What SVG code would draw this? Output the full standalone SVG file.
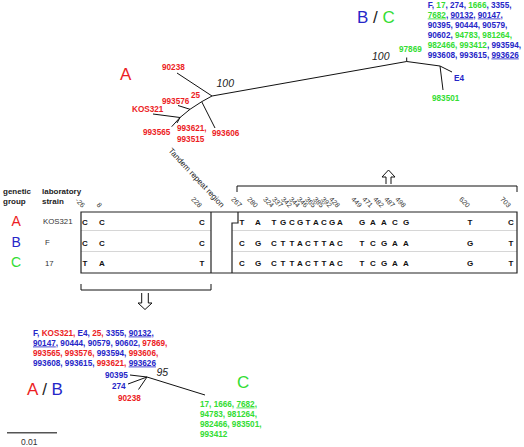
<svg xmlns="http://www.w3.org/2000/svg" width="524" height="447" viewBox="0 0 524 447">
<style>
text{font-family:"Liberation Sans",Arial,sans-serif}
.lb{font-size:8.2px;font-weight:bold}
.r{fill:#ec1c24}.b{fill:#2626c8}.g{fill:#33dd33}.k{fill:#222}
.u{text-decoration:underline}
.big{font-size:17px}
.it{font-size:10.5px;font-style:italic;fill:#222}
.hd{font-size:8px;font-weight:bold;fill:#222}
.st{font-size:7.8px;fill:#333}
.sq{font-size:8px;font-weight:bold;fill:#111;text-anchor:middle}
.cl{font-size:7px;fill:#333;text-anchor:end}
.e{stroke:#111;stroke-width:1;fill:none}
.bx{stroke:#222;stroke-width:1.2;fill:none}
.sep{stroke:#ccc;stroke-width:0.8}
</style>
<rect width="524" height="447" fill="#fff"/>

<g id="connectors">
  <path class="e" d="M212,96 L177,73"/>
  <path class="e" d="M212,96 L201.7,101.7 L190,109.3 L180,117.5 L171.7,126.7"/>
  <path class="e" d="M201.7,101.7 L215,128"/>
  <path class="e" d="M190,109.3 L178,105.5"/>
  <path class="e" d="M180,117.5 L153,114"/>
  <path class="e" d="M180,117.5 L177,123"/>
  <path class="e" d="M212,96 L406.7,61.5"/>
  <path class="e" d="M406.7,61.5 L406.7,57.5"/>
  <path class="e" d="M406.7,61.5 L440,66 L452,72"/>
  <path class="e" d="M440,66 L443,90"/>
  <path class="e" d="M147,377 L130,375"/>
  <path class="e" d="M147,377 L128,384"/>
  <path class="e" d="M147,377 L138.5,389.5"/>
  <path class="e" d="M147,377 L205,395"/>
  <path class="e" d="M237,192 V186 H517 V192"/>
  <path class="e" d="M386,184 V177 H382 L388.5,170 L395,177 H391 V184"/>
  <path class="e" d="M81,284 V290 H211 V284"/>
  <path class="e" d="M141.7,293 V303 H138 L145,309.5 L152,303 H148.3 V293"/>
  <path d="M7,432.7 H57" stroke="#555" stroke-width="1.5"/>
</g>

<g id="tree-top-A">
  <text class="big r" x="120" y="80">A</text>
  <text class="lb r" x="162" y="70">90238</text>
  <text class="lb r" x="191" y="98">25</text>
  <text class="lb r" x="162" y="104">993576</text>
  <text class="lb r" x="132" y="112">KOS321</text>
  <text class="lb r" x="143" y="134.5">993565</text>
  <text class="lb r" x="177" y="131">993621,</text>
  <text class="lb r" x="177" y="141.5">993515</text>
  <text class="lb r" x="212" y="135.5">993606</text>
  <text class="it" x="216.5" y="87">100</text>
</g>

<g id="tree-top-BC">
  <text class="big" x="357" y="23"><tspan class="b">B</tspan><tspan class="k"> / </tspan><tspan class="g">C</tspan></text>
  <text class="it" x="372" y="60">100</text>
  <text class="lb g" x="399" y="52">97869</text>
  <text class="lb b" x="454" y="81">E4</text>
  <text class="lb g" x="432" y="101">983501</text>
  <text class="lb" x="427.7" y="7.5"><tspan class="b">F, </tspan><tspan class="g">17</tspan><tspan class="b">, 274, </tspan><tspan class="g">1666</tspan><tspan class="b">, 3355,</tspan></text>
  <text class="lb" x="427.7" y="17.5"><tspan class="g u">7682</tspan><tspan class="b">, </tspan><tspan class="b u">90132</tspan><tspan class="b">, </tspan><tspan class="b u">90147</tspan><tspan class="b">,</tspan></text>
  <text class="lb b" x="427.7" y="27.5">90395, 90444, 90579,</text>
  <text class="lb" x="427.7" y="37.5"><tspan class="b">90602, </tspan><tspan class="g">94783, 981264,</tspan></text>
  <text class="lb" x="427.7" y="47.5"><tspan class="g">982466, 993412</tspan><tspan class="b">, 993594,</tspan></text>
  <text class="lb" x="427.7" y="57.5"><tspan class="b">993608, 993615, </tspan><tspan class="b u">993626</tspan></text>
</g>

<g id="tandem-label">
  <text font-size="8" fill="#222" transform="translate(168,151) rotate(47)">Tandem repeat region</text>
</g>

<g id="table">
  <text class="hd" x="3" y="193.5">genetic</text>
  <text class="hd" x="3" y="203.5">group</text>
  <text class="hd" x="42" y="193.5">laboratory</text>
  <text class="hd" x="42" y="203.5">strain</text>
  <text font-size="14" class="r" x="11.5" y="226">A</text>
  <text font-size="14" class="b" x="11.5" y="246.5">B</text>
  <text font-size="14" class="g" x="11" y="267">C</text>
  <text class="st" x="43" y="224">KOS321</text>
  <text class="st" x="45" y="245">F</text>
  <text class="st" x="45" y="266">17</text>

  <line class="sep" x1="81" y1="230.5" x2="211" y2="230.5"/>
  <line class="sep" x1="81" y1="251.5" x2="211" y2="251.5"/>
  <line class="sep" x1="232" y1="230.5" x2="517" y2="230.5"/>
  <line class="sep" x1="232" y1="251.5" x2="517" y2="251.5"/>
  <path class="bx" d="M81,212 H517 V273 H81 Z"/>
  <path class="bx" d="M211,212 V273"/>
  <path class="bx" d="M238,212 V223 H232 V273"/>

  <text class="cl" transform="translate(82,208) rotate(45)">-26</text>
  <text class="cl" transform="translate(99,208) rotate(45)">8</text>
  <text class="cl" transform="translate(199,208) rotate(45)">228</text>
  <g class="sq">
    <text x="85" y="224.5">C</text><text x="102" y="224.5">C</text><text x="202" y="224.5">C</text>
    <text x="85" y="245.5">C</text><text x="102" y="245.5">C</text><text x="202" y="245.5">C</text>
    <text x="85" y="266">T</text><text x="102" y="266">A</text><text x="202" y="266">T</text>
  </g>

  <text class="cl" transform="translate(239,208) rotate(45)">267</text>
  <text class="cl" transform="translate(255,208) rotate(45)">280</text>
  <text class="cl" transform="translate(271,208) rotate(45)">324</text>
  <text class="cl" transform="translate(280,208) rotate(45)">337</text>
  <text class="cl" transform="translate(289,208) rotate(45)">342</text>
  <text class="cl" transform="translate(297,208) rotate(45)">344</text>
  <text class="cl" transform="translate(305,208) rotate(45)">346</text>
  <text class="cl" transform="translate(313,208) rotate(45)">365</text>
  <text class="cl" transform="translate(321,208) rotate(45)">385</text>
  <text class="cl" transform="translate(329,208) rotate(45)">392</text>
  <text class="cl" transform="translate(337,208) rotate(45)">428</text>
  <text class="cl" transform="translate(359,208) rotate(45)">449</text>
  <text class="cl" transform="translate(370,208) rotate(45)">471</text>
  <text class="cl" transform="translate(381,208) rotate(45)">482</text>
  <text class="cl" transform="translate(392,208) rotate(45)">487</text>
  <text class="cl" transform="translate(403,208) rotate(45)">498</text>
  <text class="cl" transform="translate(467,208) rotate(45)">620</text>
  <text class="cl" transform="translate(508,208) rotate(45)">703</text>

  <g class="sq">
    <text y="224.5"><tspan x="242">T</tspan><tspan x="258">A</tspan><tspan x="274">T</tspan><tspan x="283">G</tspan><tspan x="292">C</tspan><tspan x="300">G</tspan><tspan x="308">T</tspan><tspan x="316">A</tspan><tspan x="324">C</tspan><tspan x="332">G</tspan><tspan x="340">A</tspan><tspan x="362">G</tspan><tspan x="373">A</tspan><tspan x="384">A</tspan><tspan x="395">C</tspan><tspan x="406">G</tspan><tspan x="470">T</tspan><tspan x="511">C</tspan></text>
    <text y="245.5"><tspan x="242">C</tspan><tspan x="258">G</tspan><tspan x="274">C</tspan><tspan x="283">T</tspan><tspan x="292">T</tspan><tspan x="300">A</tspan><tspan x="308">C</tspan><tspan x="316">T</tspan><tspan x="324">T</tspan><tspan x="332">A</tspan><tspan x="340">C</tspan><tspan x="362">T</tspan><tspan x="373">C</tspan><tspan x="384">G</tspan><tspan x="395">A</tspan><tspan x="406">A</tspan><tspan x="470">G</tspan><tspan x="511">T</tspan></text>
    <text y="266"><tspan x="242">C</tspan><tspan x="258">G</tspan><tspan x="274">C</tspan><tspan x="283">T</tspan><tspan x="292">T</tspan><tspan x="300">A</tspan><tspan x="308">C</tspan><tspan x="316">T</tspan><tspan x="324">T</tspan><tspan x="332">A</tspan><tspan x="340">C</tspan><tspan x="362">T</tspan><tspan x="373">C</tspan><tspan x="384">G</tspan><tspan x="395">A</tspan><tspan x="406">A</tspan><tspan x="470">G</tspan><tspan x="511">T</tspan></text>
  </g>
</g>

<g id="tree-bottom-AB">
  <text class="lb" x="33" y="335.5"><tspan class="b">F, </tspan><tspan class="r">KOS321, </tspan><tspan class="b">E4, </tspan><tspan class="r">25, </tspan><tspan class="b">3355, </tspan><tspan class="b u">90132</tspan><tspan class="b">,</tspan></text>
  <text class="lb" x="33" y="345.5"><tspan class="b u">90147</tspan><tspan class="b">, 90444, 90579, 90602, </tspan><tspan class="r">97869,</tspan></text>
  <text class="lb" x="33" y="355.5"><tspan class="r">993565, 993576, </tspan><tspan class="b">993594, </tspan><tspan class="r">993606,</tspan></text>
  <text class="lb" x="33" y="365.5"><tspan class="b">993608, 993615, </tspan><tspan class="r">993621, </tspan><tspan class="b u">993626</tspan></text>
  <text class="big" x="27" y="395"><tspan class="r">A</tspan><tspan class="k"> / </tspan><tspan class="b">B</tspan></text>
  <text class="lb b" x="105" y="378">90395</text>
  <text class="lb b" x="112" y="389">274</text>
  <text class="lb r" x="118" y="401">90238</text>
  <text class="it" x="156.5" y="376">95</text>
</g>

<g id="tree-bottom-C">
  <text class="big g" x="237" y="388">C</text>
  <text class="lb" x="200" y="406.5"><tspan class="g">17, 1666, </tspan><tspan class="g u">7682</tspan><tspan class="g">,</tspan></text>
  <text class="lb g" x="200" y="417">94783, 981264,</text>
  <text class="lb g" x="200" y="427">982466, 983501,</text>
  <text class="lb g" x="200" y="436.5">993412</text>
</g>

<g id="scale">
  <text font-size="8.5" fill="#333" x="21" y="445">0.01</text>
</g>
</svg>
